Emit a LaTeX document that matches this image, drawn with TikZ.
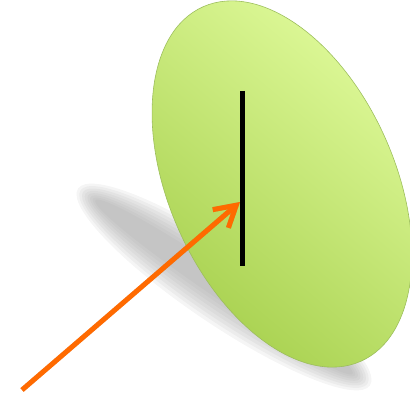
\documentclass[tikz,border=0pt]{standalone}
\usetikzlibrary{arrows.meta, shapes.geometric}
\definecolor{clrdisc_top}{HTML}{E2FC9E}
\definecolor{clrdisc_bottom}{HTML}{A4CE4A}
\definecolor{clrdisc_border}{HTML}{9CBE5C}
\definecolor{clrshadow}{HTML}{9A9A9A}
\definecolor{clrray}{HTML}{FF6A00}
\definecolor{clrstem}{HTML}{000000}

\begin{document}
\begin{tikzpicture}[
    x=0.03cm, y=0.03cm,
    disc/.style={ellipse, draw=clrdisc_border, line width=0.5pt, inner sep=0pt,
                 minimum width=6.78cm, minimum height=11.64cm, rotate=24,
                 top color=clrdisc_top, bottom color=clrdisc_bottom, shading angle=-40},
    stem/.style={line width=0.15cm, color=clrstem},
    ray/.style={-{Straight Barb[length=0.62cm, width=0.72cm]}, line width=0.15cm, color=clrray},
    softshadow/.style={fill=clrshadow, fill opacity=0.1},
    dropshadow/.style={color=black, opacity=0.12, xshift=0.06cm, yshift=-0.09cm},
]
\useasboundingbox (0,0) rectangle (410,397);
% blurred shadow of the disc
\foreach \r in {0,...,7}
  \fill[softshadow, rotate around={-34:(224,110)}] (224,110) ellipse [x radius=176-3*\r, y radius=38-3.5*\r];
\node[disc] (disc) at (282,213) {};
\coordinate (stemtop) at (242.5,306);
\coordinate (stembot) at (242.5,131);
\coordinate (hit) at (240,195);
\coordinate (tail) at (22,7);
% faint drop shadows
\draw[stem, dropshadow] (stemtop) -- (stembot);
\draw[ray, dropshadow] (tail) -- (hit);
\draw[stem] (stemtop) -- (stembot);
\draw[ray] (tail) -- (hit);
\end{tikzpicture}
\end{document}
